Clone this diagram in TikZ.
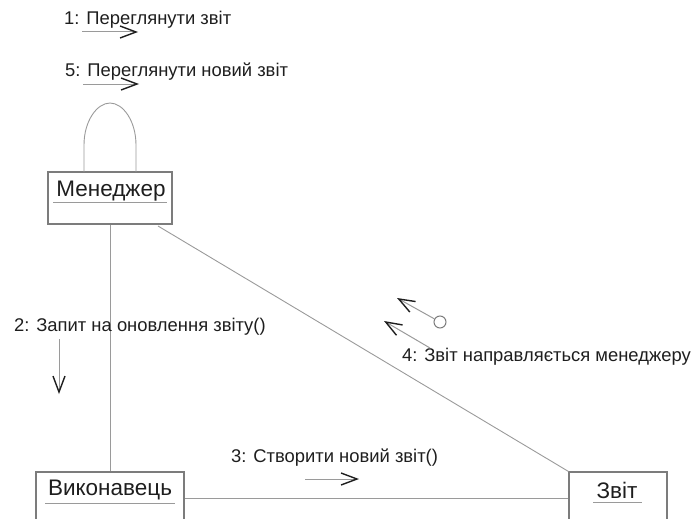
\documentclass[tikz,border=0pt]{standalone}
\usepackage{fontspec}
\setmainfont{Liberation Sans}
\usetikzlibrary{arrows.meta}
\definecolor{linegray}{HTML}{9A9A9A}
\definecolor{boxgray}{HTML}{7C7C7C}
\definecolor{ink}{HTML}{1E1E1E}
\tikzset{
  objbox/.style={draw=boxgray, line width=1.1pt, rectangle, inner sep=0pt},
  objname/.style={inner sep=0pt, text=ink, font=\fontsize{22.5}{25}\selectfont},
  nameline/.style={draw=linegray, line width=1pt},
  link/.style={draw=linegray, line width=0.9pt},
  msglabel/.style={inner sep=0pt, anchor=west, text=ink, font=\fontsize{18.4}{20}\selectfont},
  msgarrow/.style={draw=linegray, line width=1pt,
    -{Straight Barb[color=ink, line width=1.4pt, length=16pt, width=12pt]}},
}
\begin{document}
\begin{tikzpicture}[x=1pt, y=-1pt]
  \useasboundingbox (0,0) rectangle (693,519);
  \clip (0,0) rectangle (693,519);

  % objects
  \node[objbox, minimum width=124pt, minimum height=52pt] (mgr) at (110,198) {};
  \node[objbox, minimum width=148pt, minimum height=68pt] (exe) at (110,506) {};
  \node[objbox, minimum width=98pt, minimum height=68pt] (rep) at (618,506) {};

  \node[objname] (mgrname) at (111,191) {Менеджер};
  \node[objname] (exename) at (110,490) {Виконавець};
  \node[objname] (repname) at (617,490) {Звіт};
  \draw[nameline] (53,202) -- (167,202);
  \draw[nameline] (45,503) -- (175,503);
  \draw[nameline] (593,502) -- (642,502);

  % self link on the manager
  \coordinate (loopL) at (84,172);
  \coordinate (loopR) at (136,172);
  \draw[link] (loopL) -- (84,145) .. controls (84,121) and (97,103) .. (110,103)
              .. controls (123,103) and (136,121) .. (136,145) -- (loopR);

  % links between objects
  \coordinate (hy) at (0,498);
  \coordinate (dstart) at (158,226);
  \draw[link] (mgr.south) -- (exe.north);
  \draw[link] (dstart) -- (rep.north west);
  \draw[link] (exe.east |- hy) -- (rep.west |- hy);

  % messages
  \node[msglabel] (m1) at (64,20) {1: Переглянути звіт};
  \coordinate (m1a) at (82,32);  \coordinate (m1b) at (138,32);
  \draw[msgarrow] (m1a) -- (m1b);

  \node[msglabel] (m5) at (65,72) {5: Переглянути новий звіт};
  \coordinate (m5a) at (83,84);  \coordinate (m5b) at (139,84);
  \draw[msgarrow] (m5a) -- (m5b);

  \node[msglabel] (m2) at (14,327) {2: Запит на оновлення звіту()};
  \coordinate (m2a) at (59,339); \coordinate (m2b) at (59,394);
  \draw[msgarrow] (m2a) -- (m2b);

  \node[msglabel] (m3) at (231,458) {3: Створити новий звіт()};
  \coordinate (m3a) at (305,479); \coordinate (m3b) at (359,479);
  \draw[msgarrow] (m3a) -- (m3b);

  \node[msglabel] (m4) at (402,357) {4: Звіт направляється менеджеру};
  \node[draw=boxgray, line width=1pt, circle, minimum size=12pt, inner sep=0pt] (flow) at (440,322) {};
  \coordinate (m4b) at (397,298);
  \draw[msgarrow] (flow) -- (m4b);
  \coordinate (m4c) at (430,348); \coordinate (m4d) at (384,321);
  \draw[msgarrow] (m4c) -- (m4d);
\end{tikzpicture}
\end{document}
